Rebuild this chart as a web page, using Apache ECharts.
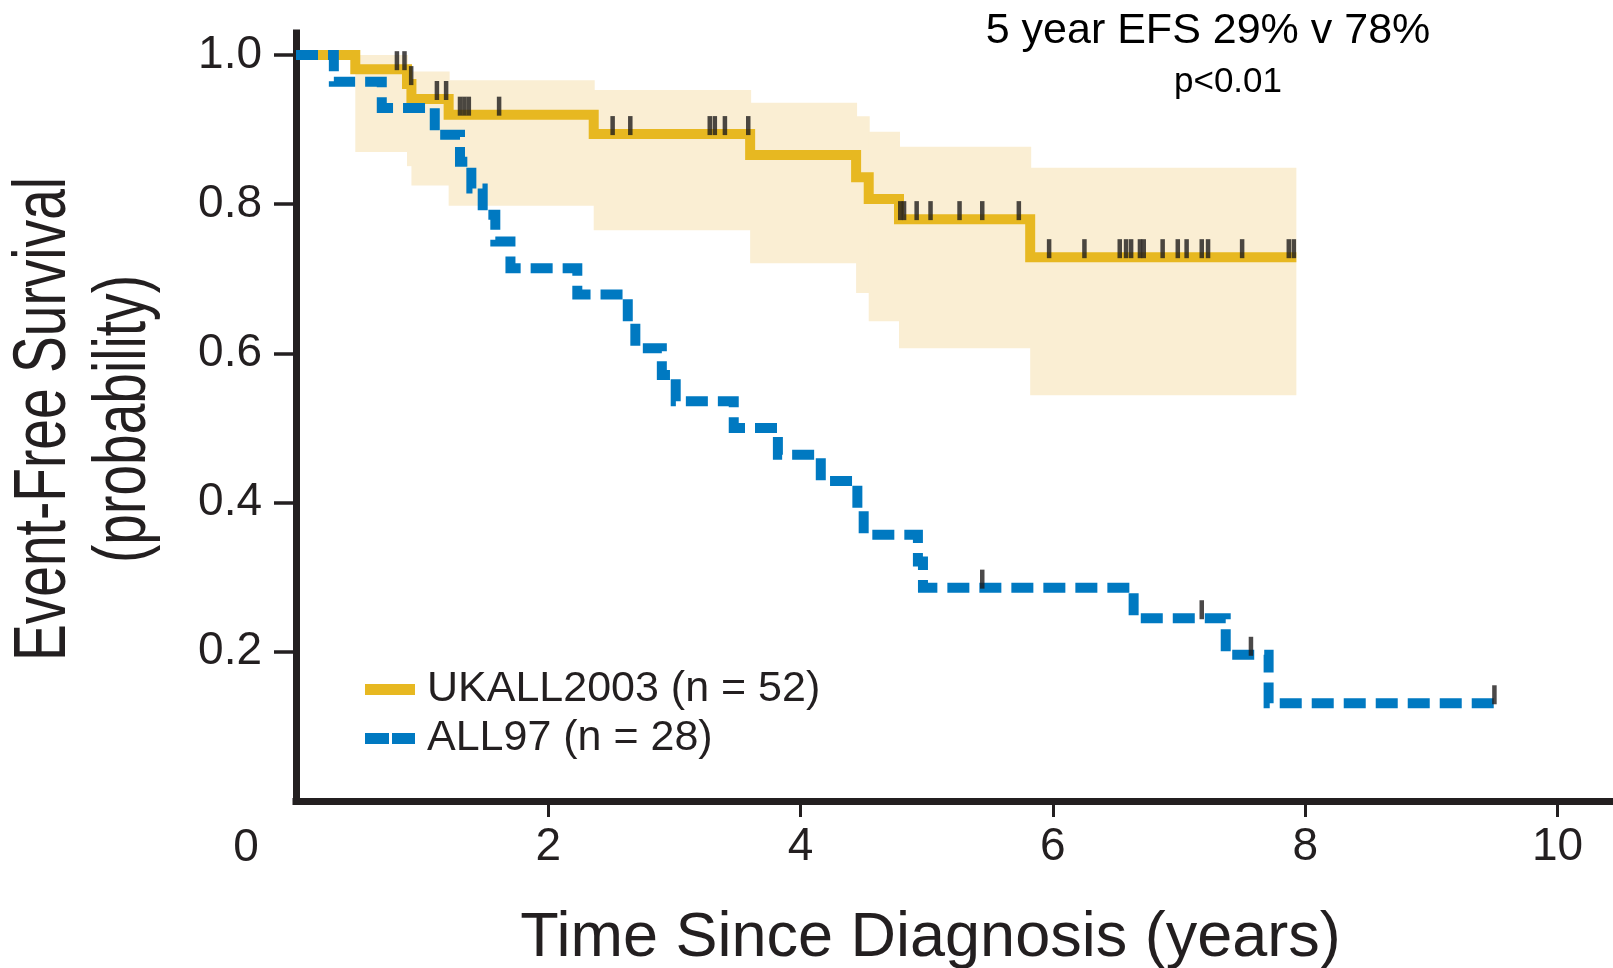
<!DOCTYPE html>
<html>
<head>
<meta charset="utf-8">
<title>Event-Free Survival: UKALL2003 vs ALL97</title>
<script src="https://cdn.jsdelivr.net/npm/echarts@6/dist/echarts.min.js"></script>
<style>
  html, body { margin: 0; padding: 0; background: #fff; }
  #chart { width: 1613px; height: 968px; }
</style>
</head>
<body>
<div id="chart"></div>
<script>
// Axis tick values
const xTicks = [2, 4, 6, 8, 10];
const yTicks = [0.2, 0.4, 0.6, 0.8, 1.0];

// UKALL2003 (n = 52): Kaplan-Meier step times (years) and survival after each step
const ukallTime = [0, 0.47, 0.88, 0.915, 1.21, 2.36, 3.60, 4.44, 4.54, 4.78, 5.82];
const ukallSurv = [1.0, 0.981, 0.961, 0.941, 0.920, 0.894, 0.866, 0.836, 0.807, 0.780, 0.729];
// 95% confidence limits for each step interval
const ukallLower = [1.0, 0.870, 0.851, 0.825, 0.798, 0.765, 0.721, 0.681, 0.643, 0.607, 0.544];
const ukallUpper = [1.0, 1.0, 0.978, 0.978, 0.966, 0.953, 0.936, 0.918, 0.897, 0.877, 0.849];
const ukallEnd = 7.93;
// censored observations (years)
const ukallCensor = [0.80, 0.86, 0.913, 1.117, 1.19, 1.30, 1.335, 1.37, 1.61, 2.51, 2.65,
  3.28, 3.32, 3.40, 3.585, 4.79, 4.82, 4.92, 5.03, 5.26, 5.44, 5.73, 5.97, 6.25, 6.53,
  6.58, 6.62, 6.69, 6.72, 6.87, 6.99, 7.06, 7.18, 7.23, 7.50, 7.87, 7.91];

// ALL97 (n = 28)
const all97Time = [0, 0.30, 0.68, 1.10, 1.30, 1.39, 1.48, 1.58, 1.70, 2.23, 2.63, 2.69,
  2.90, 3.01, 3.47, 3.82, 4.16, 4.45, 4.50, 4.93, 4.97, 6.64, 7.37, 7.71];
const all97Surv = [1.0, 0.964, 0.929, 0.893, 0.857, 0.821, 0.786, 0.750, 0.714, 0.679, 0.643, 0.607,
  0.571, 0.536, 0.500, 0.464, 0.429, 0.393, 0.357, 0.321, 0.286, 0.245, 0.196, 0.131];
const all97End = 9.5;
const all97Censor = [5.44, 7.18, 7.57, 9.5];

const YELLOW = '#E7B821';
const BAND = '#FAEED3';
const BLUE = '#0079C1';
const INK = '#231F20';
const SANS = "'Liberation Sans', Arial, Helvetica, sans-serif";

function levelAt(times, surv, t) {
  let v = surv[0];
  for (let i = 0; i < times.length; i++) if (times[i] <= t) v = surv[i];
  return v;
}
function stepData(times, surv, end) {
  const d = times.map((t, i) => [t, surv[i]]);
  d.push([end, surv[surv.length - 1]]);
  return d;
}
function censorData(censor, times, surv) {
  return censor.map(t => [t, levelAt(times, surv, t)]);
}
// one rectangle per step interval: [start, end, lower, upper, overlapFlag]
const bandItems = [];
for (let i = 1; i < ukallTime.length; i++) {
  const last = i + 1 >= ukallTime.length;
  bandItems.push([ukallTime[i], last ? ukallEnd : ukallTime[i + 1], ukallLower[i], ukallUpper[i], last ? 0 : 1]);
}

const chart = echarts.init(document.getElementById('chart'), null, { renderer: 'canvas' });

const tickMark = {
  type: 'scatter',
  symbol: 'rect',
  symbolSize: [4.5, 19],
  symbolOffset: [0, -8.5],
  itemStyle: { color: '#1E1B1C' },
  silent: true,
  z: 5
};

// rotated, horizontally condensed title text for the vertical axis
function yTitleLine(text, x) {
  return {
    type: 'text', x: x, y: 419, rotation: Math.PI / 2, scaleX: 0.745, silent: true,
    style: { text: text, font: '74px ' + SANS, fill: INK, align: 'center', verticalAlign: 'middle' }
  };
}

chart.setOption({
  animation: false,
  backgroundColor: '#fff',
  grid: { left: 296, right: 0, top: 33, bottom: 167, containLabel: false, outerBoundsMode: 'none' },
  xAxis: {
    type: 'value',
    min: 0,
    max: 10.44,
    name: 'Time Since Diagnosis (years)',
    nameLocation: 'middle',
    nameGap: 106,
    nameTextStyle: { fontFamily: SANS, fontSize: 63, color: INK, padding: [0, 48, 0, 0] },
    axisLine: { show: true, onZero: false, lineStyle: { color: INK, width: 7, cap: 'square' } },
    axisTick: { show: true, customValues: xTicks, length: 16, lineStyle: { color: INK, width: 3 } },
    axisLabel: { customValues: xTicks, margin: 23, fontFamily: SANS, fontSize: 46, color: INK },
    splitLine: { show: false }
  },
  yAxis: {
    type: 'value',
    min: 0,
    max: 1.0295,
    axisLine: { show: true, onZero: false, lineStyle: { color: INK, width: 7, cap: 'square' } },
    axisTick: { show: true, customValues: yTicks, length: 22, lineStyle: { color: INK, width: 3.5 } },
    axisLabel: {
      customValues: yTicks, margin: 34, fontFamily: SANS, fontSize: 46, color: INK,
      formatter: v => v.toFixed(1)
    },
    splitLine: { show: false }
  },
  legend: {
    orient: 'vertical',
    left: 360,
    top: 663,
    itemWidth: 50,
    itemHeight: 11,
    itemGap: 6,
    itemStyle: { borderWidth: 0 },
    textStyle: { fontFamily: SANS, fontSize: 43, color: INK, padding: [0, 0, 0, 7] },
    selectedMode: false,
    data: [
      { name: 'UKALL2003 (n = 52)', icon: 'rect', itemStyle: { color: YELLOW, borderWidth: 0 } },
      { name: 'ALL97 (n = 28)', icon: 'path://M0,0H24V11H0Z M27,0H50V11H27Z', itemStyle: { color: BLUE, borderWidth: 0 } }
    ]
  },
  graphic: [
    yTitleLine('Event-Free Survival', 45),
    yTitleLine('(probability)', 125),
    { type: 'text', x: 1208, y: 31, silent: true,
      style: { text: '5 year EFS 29% v 78%', font: '43px ' + SANS, fill: '#000', align: 'center', verticalAlign: 'middle' } },
    { type: 'text', x: 1228, y: 82, silent: true,
      style: { text: 'p<0.01', font: '35px ' + SANS, fill: '#000', align: 'center', verticalAlign: 'middle' } },
    { type: 'text', x: 246, y: 848, silent: true,
      style: { text: '0', font: '46px ' + SANS, fill: INK, align: 'center', verticalAlign: 'middle' } }
  ],
  series: [
    {
      type: 'custom',
      name: '95% CI',
      silent: true,
      z: 1,
      data: bandItems,
      encode: { x: [0, 1], y: [2, 3] },
      renderItem: function (params, api) {
        const p0 = api.coord([api.value(0), api.value(3)]);
        const p1 = api.coord([api.value(1), api.value(2)]);
        const overlap = api.value(4) ? 1 : 0;
        return {
          type: 'rect',
          shape: { x: p0[0], y: p0[1], width: p1[0] - p0[0] + overlap, height: p1[1] - p0[1] },
          style: { fill: BAND }
        };
      }
    },
    {
      type: 'line',
      name: 'UKALL2003 (n = 52)',
      data: stepData(ukallTime, ukallSurv, ukallEnd),
      step: 'end',
      symbol: 'none',
      showSymbol: false,
      silent: true,
      z: 2,
      itemStyle: { color: YELLOW },
      lineStyle: { color: YELLOW, width: 10, join: 'miter', cap: 'butt' }
    },
    {
      type: 'line',
      name: 'ALL97 (n = 28)',
      data: stepData(all97Time, all97Surv, all97End),
      step: 'end',
      symbol: 'none',
      showSymbol: false,
      silent: true,
      z: 3,
      itemStyle: { color: BLUE },
      lineStyle: { color: BLUE, width: 10, type: [22, 10], join: 'miter', cap: 'butt' }
    },
    Object.assign({ name: 'UKALL2003 censored', data: censorData(ukallCensor, ukallTime, ukallSurv) }, tickMark),
    Object.assign({ name: 'ALL97 censored', data: censorData(all97Censor, all97Time, all97Surv) }, tickMark)
  ]
});
</script>
</body>
</html>
